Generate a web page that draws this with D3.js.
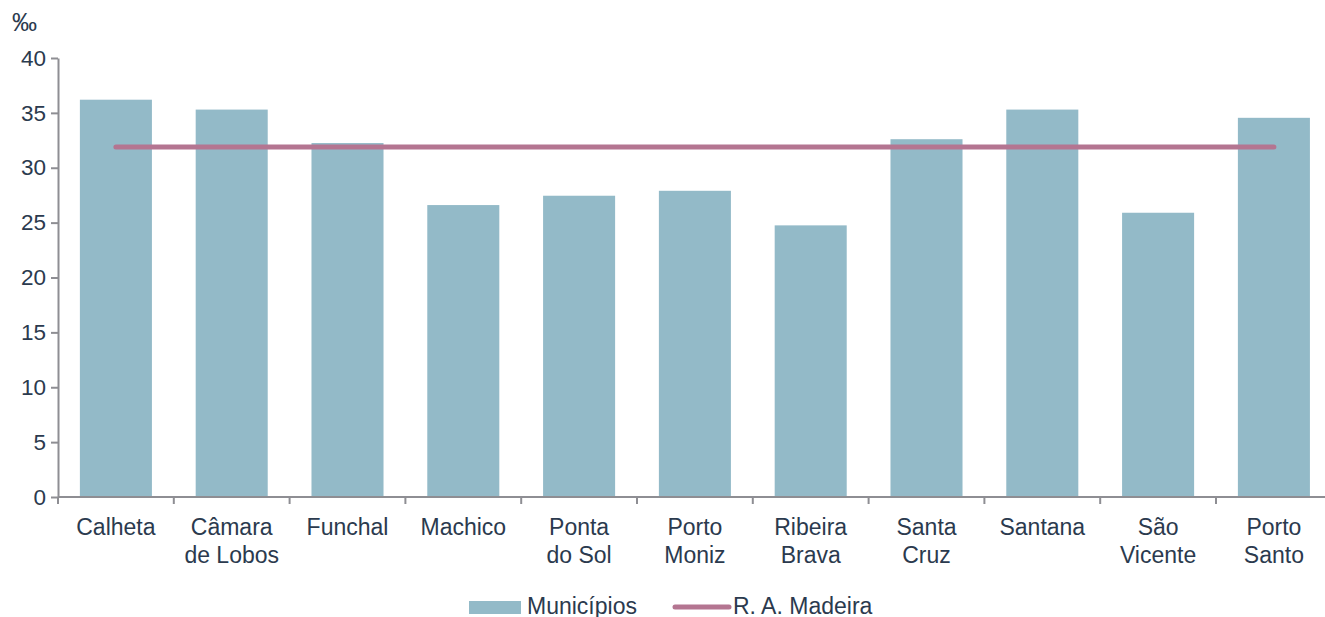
<!DOCTYPE html>
<html>
<head>
<meta charset="utf-8">
<script src="https://cdn.jsdelivr.net/npm/d3@7"></script>
<style>
  body { margin: 0; background: #fff; overflow: hidden; }
  text { font-family: "Liberation Sans", Arial, sans-serif; fill: #2b3a4e; }
</style>
</head>
<body>
<svg width="1325" height="617"></svg>
<script>
// data
var municipios = ["Calheta", "Câmara de Lobos", "Funchal", "Machico", "Ponta do Sol", "Porto Moniz",
                  "Ribeira Brava", "Santa Cruz", "Santana", "São Vicente", "Porto Santo"];
var labelLines = [["Calheta"], ["Câmara", "de Lobos"], ["Funchal"], ["Machico"], ["Ponta", "do Sol"],
                  ["Porto", "Moniz"], ["Ribeira", "Brava"], ["Santa", "Cruz"], ["Santana"],
                  ["São", "Vicente"], ["Porto", "Santo"]];
var valores = [36.2, 35.3, 32.25, 26.6, 27.45, 27.9, 24.75, 32.6, 35.3, 25.9, 34.55];
var regiao = 31.9; // R. A. Madeira
var yTicks = [0, 5, 10, 15, 20, 25, 30, 35, 40];

var svg = d3.select("svg");
var W = 1325, H = 617;
var plotLeft = 58, plotTop = 58, plotBottom = 497;
var step = 115.8;

// the band range runs past the right edge, as in the original
var x = d3.scaleBand()
    .domain(municipios)
    .range([plotLeft, plotLeft + step * municipios.length])
    .paddingInner(0.378)
    .paddingOuter(0.189);

var y = d3.scaleLinear().domain([0, 40]).range([plotBottom, plotTop]);

var axisColor = "#8e8e93";
var fs = "23px";

// bars
svg.append("g")
  .selectAll("rect")
  .data(valores)
  .enter()
  .append("rect")
    .attr("x", (d, i) => x(municipios[i]))
    .attr("y", d => y(d))
    .attr("width", x.bandwidth())
    .attr("height", d => y(0) - y(d))
    .attr("fill", "#93bac8");

// y axis
var yAxis = svg.append("g")
    .attr("transform", "translate(" + plotLeft + ",0)")
    .call(d3.axisLeft(y).tickValues(yTicks).tickSize(7).tickSizeOuter(0));
yAxis.select(".domain").attr("stroke", axisColor).attr("stroke-width", 2);
yAxis.selectAll(".tick line").attr("stroke", axisColor).attr("stroke-width", 2);
yAxis.selectAll(".tick text")
    .attr("x", -12)
    .style("font-size", "22.5px")
    .style("font-family", "Liberation Sans, Arial, sans-serif")
    .attr("fill", "#2b3a4e");

// x axis line and ticks at band edges
var edges = d3.range(municipios.length + 1).map(i => plotLeft + i * x.step());
var xg = svg.append("g");
xg.append("line")
    .attr("x1", plotLeft).attr("x2", W)
    .attr("y1", y(0)).attr("y2", y(0))
    .attr("stroke", axisColor).attr("stroke-width", 2);
xg.selectAll("line.tick")
  .data(edges)
  .enter()
  .append("line")
    .attr("class", "tick")
    .attr("x1", d => d).attr("x2", d => d)
    .attr("y1", y(0)).attr("y2", y(0) + 7)
    .attr("stroke", axisColor).attr("stroke-width", 2);

// category labels
xg.selectAll("text.cat")
  .data(labelLines)
  .enter()
  .append("text")
    .attr("class", "cat")
    .attr("text-anchor", "middle")
    .style("font-size", fs)
    .attr("transform", (d, i) => "translate(" + (x(municipios[i]) + x.bandwidth() / 2) + "," + (y(0) + 38) + ")")
  .selectAll("tspan")
  .data(d => d)
  .enter()
  .append("tspan")
    .attr("x", 0)
    .attr("dy", (d, i) => i === 0 ? 0 : 27.5)
    .text(d => d);

// R. A. Madeira line
var cx0 = x(municipios[0]) + x.bandwidth() / 2;
var cx1 = x(municipios[municipios.length - 1]) + x.bandwidth() / 2;
svg.append("line")
    .attr("x1", cx0).attr("x2", cx1)
    .attr("y1", y(regiao)).attr("y2", y(regiao))
    .attr("stroke", "#b47591")
    .attr("stroke-width", 5)
    .attr("stroke-linecap", "round");

// unit
svg.append("text")
    .attr("x", 12).attr("y", 31)
    .style("font-size", "25px")
    .text("‰");

// legend
var lg = svg.append("g");
lg.append("rect")
    .attr("x", 469).attr("y", 601).attr("width", 52).attr("height", 13)
    .attr("fill", "#93bac8");
lg.append("text")
    .attr("x", 527).attr("y", 614)
    .style("font-size", fs)
    .text("Municípios");
lg.append("line")
    .attr("x1", 675).attr("x2", 729).attr("y1", 607).attr("y2", 607)
    .attr("stroke", "#b47591").attr("stroke-width", 5).attr("stroke-linecap", "round");
lg.append("text")
    .attr("x", 733).attr("y", 614)
    .style("font-size", fs)
    .text("R. A. Madeira");
</script>
</body>
</html>
